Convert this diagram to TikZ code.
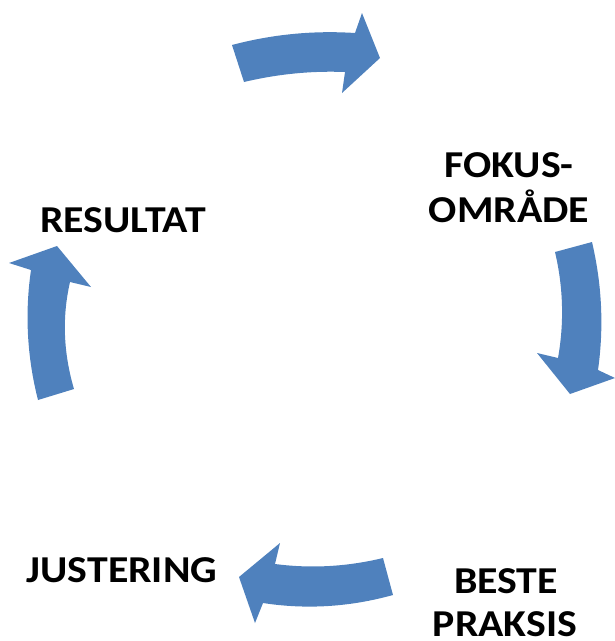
\documentclass[tikz,border=0pt]{standalone}
\usepackage{fontspec}
\setmainfont{Carlito}[FakeStretch=1.1]
\definecolor{arrowblue}{HTML}{4F81BD}
\begin{document}
\begin{tikzpicture}[x=1pt,y=-1pt,
  blockarrow/.style={fill=arrowblue,draw=none},
  lbl/.style={inner sep=0pt,anchor=base,font=\fontsize{38}{45}\selectfont\bfseries}]
\useasboundingbox (0,0) rectangle (615,641);
% top arrow
\fill[blockarrow] (232,45) .. controls (272.3,34.3) and (313.3,30.3) .. (355,33)
  -- (362,13) -- (380,58) -- (342,93) -- (345,72)
  .. controls (311.3,70.7) and (277.7,74) .. (244,82) -- cycle;
% right arrow
\fill[blockarrow] (592,242) .. controls (602,284.7) and (604,327.3) .. (598,370)
  -- (615,378) -- (570,394) -- (537,353) -- (558,358)
  .. controls (564.3,322.7) and (563.3,287.3) .. (555,252) -- cycle;
% bottom arrow
\fill[blockarrow] (393,595) .. controls (349.7,607) and (306.3,609.7) .. (263,603)
  -- (255,623) -- (239,577) -- (280,543) -- (275,564)
  .. controls (311,568.7) and (347,566.7) .. (383,558) -- cycle;
% left arrow
\fill[blockarrow] (38,400) .. controls (27,356.7) and (24.7,313.3) .. (31,270)
  -- (9,263) -- (57,246) -- (91,287) -- (70,282)
  .. controls (62,317) and (63.3,352.7) .. (74,389) -- cycle;
% labels
\node[lbl] (resultat) at (123,232) {RESULTAT};
\node[lbl] (fokus1) at (509,177) {FOKUS-};
\node[lbl] (fokus2) at (509,222) {OMRÅDE};
\node[lbl] (beste1) at (506,593) {BESTE};
\node[lbl,text depth=0pt] (beste2) at (505,636) {PRAKSIS};
\node[lbl] (justering) at (122,582) {JUSTERING};
\end{tikzpicture}
\end{document}
